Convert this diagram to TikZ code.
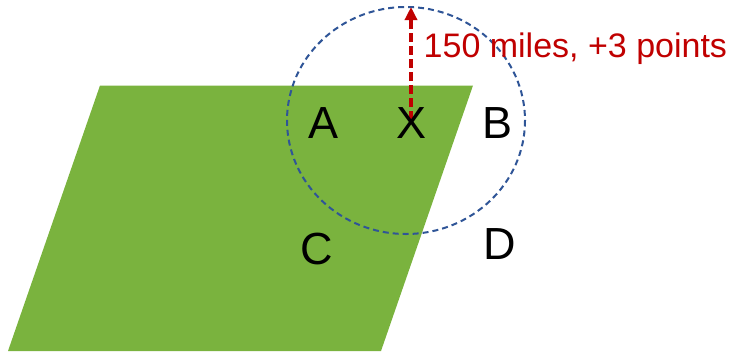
\documentclass[tikz,border=0pt]{standalone}
\usepackage{fontspec}
\setmainfont{Liberation Sans}
\usetikzlibrary{arrows.meta}
\definecolor{plgreen}{HTML}{7AB33E}
\definecolor{cblue}{HTML}{2F5597}
\definecolor{ared}{HTML}{C00000}
\begin{document}
\begin{tikzpicture}[x=1pt,y=-1pt,
  letter/.style={inner sep=0pt,anchor=base,font=\fontsize{45}{48}\selectfont},
  lbl/.style={inner sep=0pt,anchor=base west,text=ared,font=\fontsize{34}{38}\selectfont}]
\useasboundingbox (0,0) rectangle (730,351);
\fill[plgreen] (100,85.5) -- (473,85.5) -- (381,351) -- (8,351) -- cycle;
\draw[cblue,line width=2pt,dash pattern=on 6pt off 4pt] (406,120.5) ellipse [x radius=119,y radius=113.5];
\coordinate (base) at (411,120);
\coordinate (tip) at (411,7);
\draw[ared,line width=4pt,dash pattern=on 9pt off 4pt,-{Triangle[length=13pt,width=12pt]}] (base) -- (tip);
\node[letter] (A) at (324,138) {A};
\node[letter] (X) at (411.5,138) {X};
\node[letter] (B) at (497,138) {B};
\node[letter] (C) at (317,264.5) {C};
\node[letter] (D) at (500,259) {D};
\node[lbl] (L) at (423.5,57) {150 miles, +3 points};
\end{tikzpicture}
\end{document}
